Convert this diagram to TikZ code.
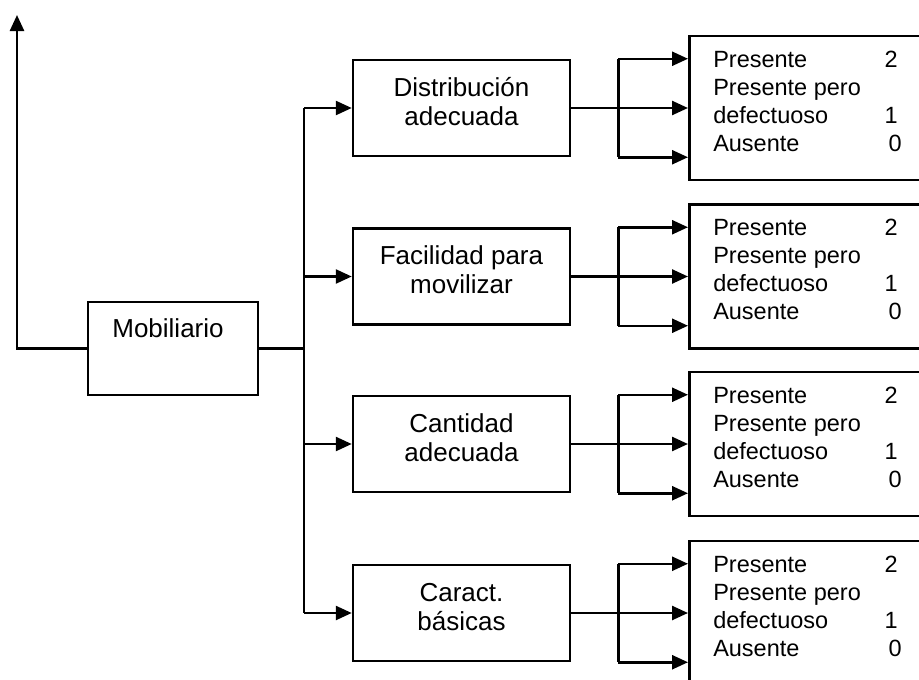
\documentclass[tikz,border=0pt]{standalone}
\usepackage{fontspec}
\setmainfont{Liberation Sans}
\usetikzlibrary{arrows.meta}
\begin{document}
\begin{tikzpicture}[x=1pt,y=1pt,
  line width=2.5pt,
  arr/.style={-{Triangle[length=16pt,width=14pt]}},
  midbox/.style={draw, rectangle, minimum width=217pt, minimum height=96pt, inner sep=0pt},
  mobbox/.style={draw, rectangle, minimum width=170pt, minimum height=93pt, inner sep=0pt},
  resbox/.style={draw, rectangle, minimum width=280pt, minimum height=144pt, inner sep=0pt, anchor=west},
  midtxt/.style={inner sep=0pt, anchor=base, font=\fontsize{26}{28}\selectfont},
  restxt/.style={inner sep=0pt, anchor=base west, font=\fontsize{23.5}{28}\selectfont},
  numtxt/.style={inner sep=0pt, anchor=base east, font=\fontsize{23.5}{28}\selectfont}]
\useasboundingbox (0,0) rectangle (919,-680);
\clip (0,0) rectangle (919,-680);
\fill[white] (0,0) rectangle (919,-680);

% Mobiliario
\node[mobbox] (mob) at (173,-348.5) {};
\node[midtxt] (mobt) at ([xshift=-5pt,yshift=11.5pt]mob.center) {Mobiliario};
\coordinate (up) at (17,-15);
\draw[arr] (mob.west) -| (up);
\coordinate (trunk) at (304,-348.5);
\draw (mob.east) -- (trunk);

\foreach \i/\cy/\ta/\tb in {1/108/Distribución/adecuada,
                            2/276.5/Facilidad para/movilizar,
                            3/444/Cantidad/adecuada,
                            4/613/Caract./básicas}{
  \node[midbox] (m\i) at (461.5,-\cy) {};
  \node[midtxt] (m\i a) at ([yshift=12pt]m\i.center) {\ta};
  \node[midtxt] (m\i b) at ([yshift=-17pt]m\i.center) {\tb};
  \draw[arr] (trunk |- m\i.west) -- (m\i.west);
  % result box
  \node[resbox] (r\i) at (688,-\cy) {};
  \node[restxt] (r\i a) at (712,-\cy+41) {Presente};
  \node[restxt] (r\i b) at (712,-\cy+13) {Presente pero};
  \node[restxt] (r\i c) at (712,-\cy-15) {defectuoso};
  \node[restxt] (r\i d) at (712,-\cy-43) {Ausente};
  \node[numtxt] (r\i e) at (899,-\cy+41) {2};
  \node[numtxt] (r\i f) at (899,-\cy-15) {1};
  \node[numtxt] (r\i g) at (903,-\cy-43) {0};
  % split connectors
  \path (m\i.north east) ++(47,0) coordinate (s\i t);
  \path (m\i.south east) ++(47,0) coordinate (s\i b);
  \draw[arr] (m\i.east) -- (m\i.east -| r\i.west);
  \draw (s\i t) -- (s\i b);
  \draw[arr] (s\i t) -- (s\i t -| r\i.west);
  \draw[arr] (s\i b) -- (s\i b -| r\i.west);
}
\draw (trunk |- m1.west) -- (trunk |- m4.west);
\end{tikzpicture}
\end{document}
